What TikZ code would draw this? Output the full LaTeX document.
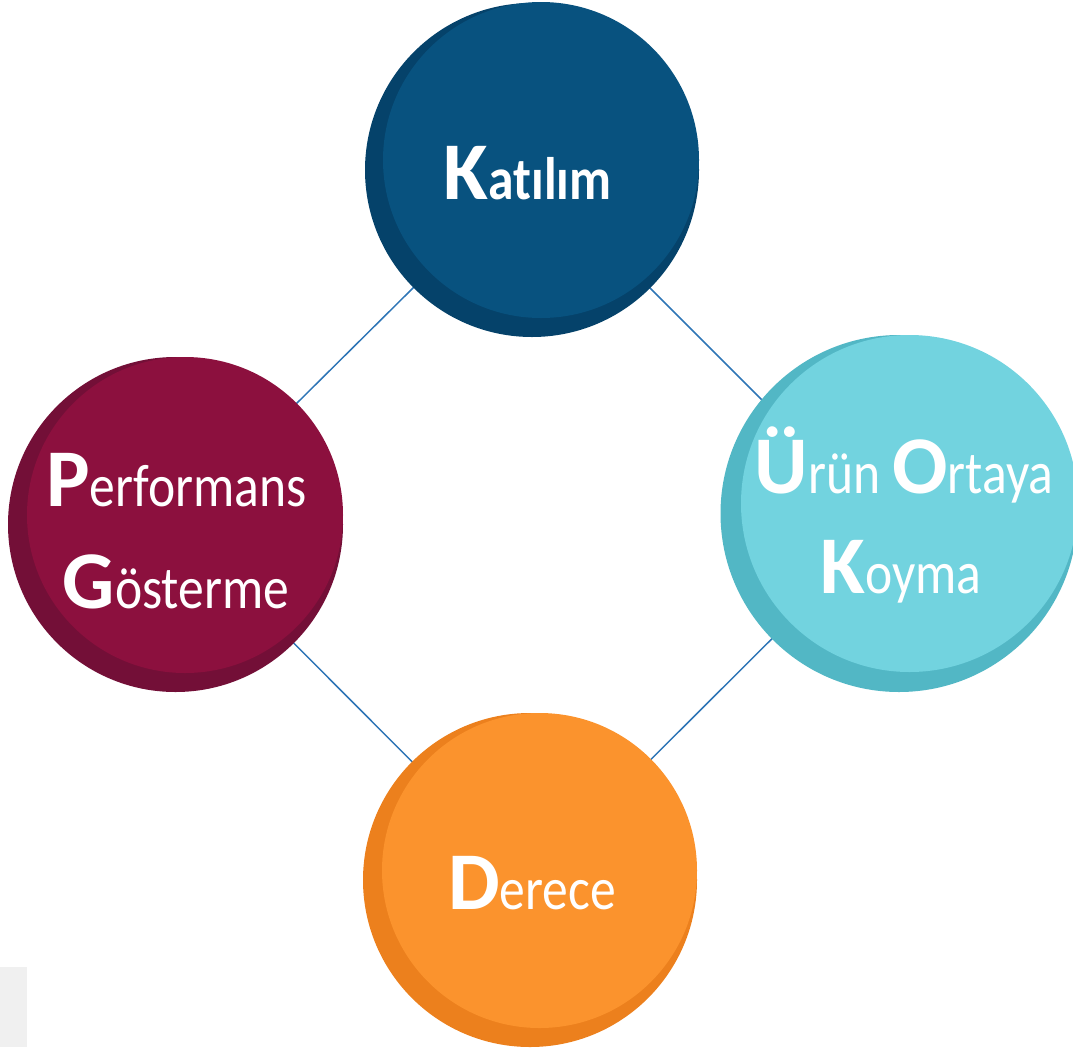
\documentclass[tikz,border=0pt]{standalone}
\usepackage{fontspec}
\setmainfont[Ligatures={NoCommon}]{Carlito}
\newfontfamily\narrowfont[FakeStretch=0.86,Ligatures={NoCommon}]{Carlito}
\definecolor{topdark}{HTML}{05426A}
\definecolor{toplight}{HTML}{08527F}
\definecolor{leftdark}{HTML}{730F37}
\definecolor{leftlight}{HTML}{8C103E}
\definecolor{rightdark}{HTML}{52B7C5}
\definecolor{rightlight}{HTML}{72D3DF}
\definecolor{botdark}{HTML}{EC801D}
\definecolor{botlight}{HTML}{FB932D}
\definecolor{linkblue}{HTML}{2E75B6}
\definecolor{boxgray}{HTML}{F0F0F0}
\newcommand\myinit[1]{{\fontsize{82}{82}\selectfont\bfseries #1}}
\newcommand\myrest[1]{{\narrowfont\fontsize{60}{60}\selectfont #1}}
\newcommand\myrestb[1]{{\narrowfont\fontsize{60}{60}\selectfont\bfseries #1}}
\tikzset{
  disc/.style={circle, inner sep=0pt, outer sep=0pt, draw=none},
  link/.style={draw=linkblue, line width=1.5pt},
  lbl/.style={anchor=base, text=white, inner sep=0pt}
}
\begin{document}
\begin{tikzpicture}[x=1pt,y=-1pt]
\useasboundingbox (0,0) rectangle (1073,1047);
\clip (0,0) rectangle (1073,1047);
\fill[boxgray] (0,967) rectangle (27,1047);
% diamond vertices
\coordinate (vt) at (532,170);
\coordinate (vl) at (175,524);
\coordinate (vb) at (530,880);
\coordinate (vr) at (886.5,524.5);
\draw[link] (vt) -- (vl);
\draw[link] (vl) -- (vb);
\draw[link] (vb) -- (vr);
\draw[link] (vr) -- (vt);
% top
\node[disc, minimum size=334pt, fill=topdark] (topo) at (532,170) {};
\node[disc, minimum size=316pt, fill=toplight] (topi) at (541,160) {};
\node[lbl] (topt) at (527.5,199) {\myinit{K}\myrestb{atılım}};
% left
\node[disc, minimum size=335pt, fill=leftdark] (lefto) at (175.5,524.5) {};
\node[disc, minimum size=316pt, fill=leftlight] (lefti) at (185,515) {};
\node[lbl] (leftt1) at (176.5,506) {\myinit{P}\myrest{erformans}};
\node[lbl] (leftt2) at (176,608) {\myinit{G}\myrest{österme}};
% right
\node[disc, minimum size=357pt, fill=rightdark] (righto) at (899,513.5) {};
\node[disc, minimum size=337pt, fill=rightlight] (righti) at (909.5,503.5) {};
\node[lbl] (rightt1) at (904,493) {\myinit{Ü}\myrest{rün }\myinit{O}\myrest{rtaya}};
\node[lbl] (rightt2) at (901,593) {\myinit{K}\myrest{oyma}};
% bottom
\node[disc, minimum size=334pt, fill=botdark] (boto) at (530,880) {};
\node[disc, minimum size=315pt, fill=botlight] (boti) at (539.5,870.5) {};
\node[lbl] (bott) at (532,909) {\myinit{D}\myrest{erece}};
\end{tikzpicture}
\end{document}
